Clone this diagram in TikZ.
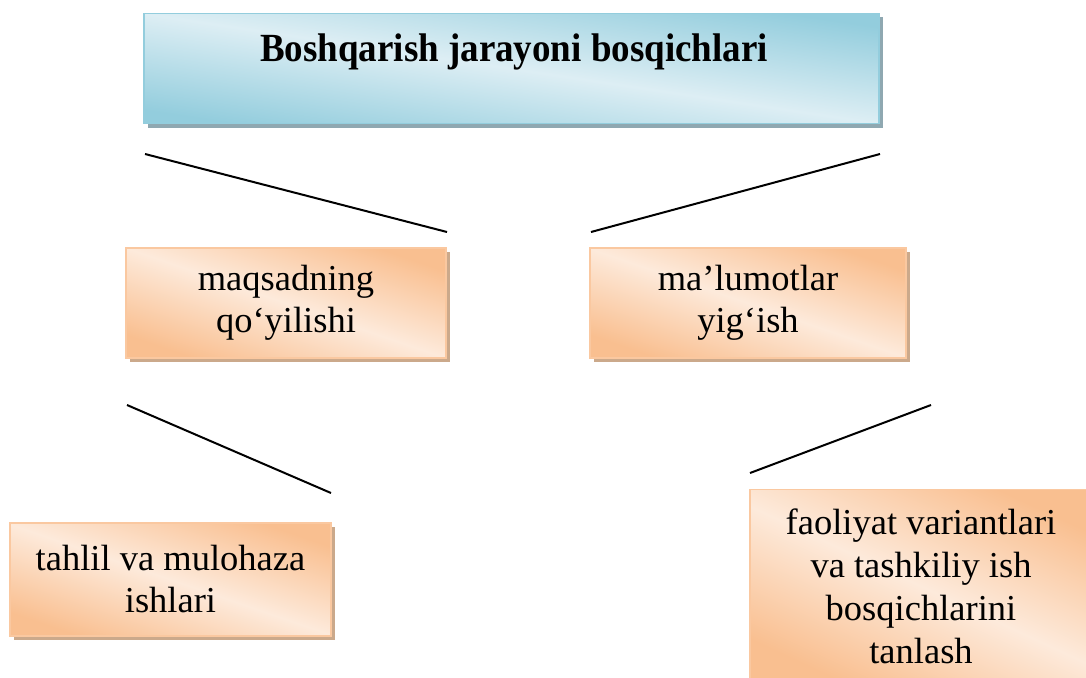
\documentclass[tikz,border=0pt]{standalone}
\usepackage{fontspec}
\setmainfont{Liberation Serif}
\usetikzlibrary{shadows}
\definecolor{bdark}{HTML}{93CDDD}
\definecolor{blight}{HTML}{DDEEF4}
\definecolor{bborder}{HTML}{93CDDD}
\definecolor{bshadow}{HTML}{8FA8B1}
\definecolor{odark}{HTML}{F9BF90}
\definecolor{olight}{HTML}{FDEADB}
\definecolor{oborder}{HTML}{FAC8A0}
\definecolor{oshadow}{HTML}{CBA98B}
\begin{document}
\begin{tikzpicture}[x=1pt,y=-1pt,
  bluebox/.style={draw=bborder, line width=1.5pt, top color=bdark, bottom color=bdark,
    middle color=blight, shading angle=-8.5,
    drop shadow={shadow xshift=4pt, shadow yshift=-4pt, fill=bshadow, opacity=1},
    inner sep=0pt},
  orangebox/.style={draw=oborder, line width=1.5pt, top color=odark, bottom color=odark,
    middle color=olight, shading angle=-19,
    drop shadow={shadow xshift=4pt, shadow yshift=-4pt, fill=oshadow, opacity=1},
    inner sep=0pt, align=center, font=\fontsize{36.5}{42}\selectfont},
  link/.style={draw=black, line width=2pt}]
\useasboundingbox (0,0) rectangle (1086,677);
\clip (0,0) rectangle (1086,677);
% title box
\node[bluebox, minimum width=735pt, minimum height=110pt] (topbox) at (511.5,68.5) {};
\node[anchor=base, inner sep=0pt, font=\fontsize{37}{44}\selectfont\bfseries] (title) at (514,61) {\scalebox{1}[1.08]{Boshqarish jarayoni bosqichlari}};
% second row
\node[orangebox, minimum width=320pt, minimum height=110pt] (maq) at (286,303) {maqsadning\\qo‘yilishi};
\node[orangebox, minimum width=316pt, minimum height=110pt] (mal) at (748,303) {ma’lumotlar\\yig‘ish};
% third row
\node[orangebox, minimum width=321pt, minimum height=113pt] (tah) at (170.5,579.5) {tahlil va mulohaza\\ishlari};
\node[orangebox, shading angle=-25, minimum width=342pt, minimum height=193pt, font=\fontsize{36.5}{43}\selectfont] (fao) at (921,586) {faoliyat variantlari\\va tashkiliy ish\\bosqichlarini\\tanlash};
% connector lines
\coordinate (l1a) at (145,154); \coordinate (l1b) at (447,232);
\coordinate (l2a) at (880,154); \coordinate (l2b) at (591,232);
\coordinate (l3a) at (127,405); \coordinate (l3b) at (331,493);
\coordinate (l4a) at (931,405); \coordinate (l4b) at (750,473);
\draw[link] (l1a) -- (l1b);
\draw[link] (l2a) -- (l2b);
\draw[link] (l3a) -- (l3b);
\draw[link] (l4a) -- (l4b);
\end{tikzpicture}
\end{document}
